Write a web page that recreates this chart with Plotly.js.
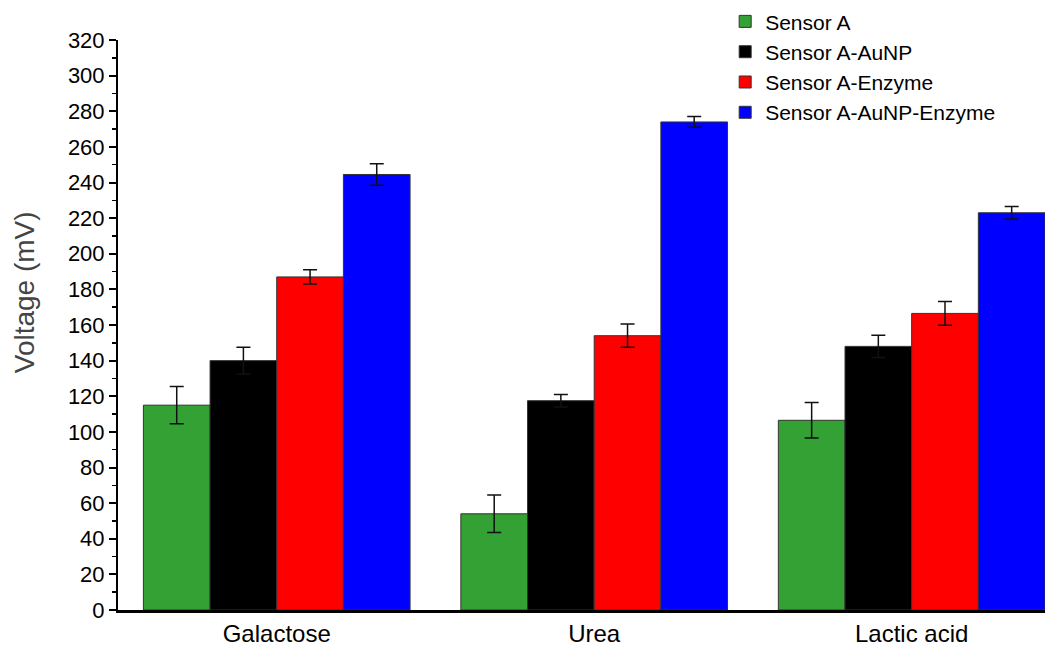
<!DOCTYPE html>
<html>
<head>
<meta charset="utf-8">
<script src="https://cdn.plot.ly/plotly-3.0.1.min.js"></script>
<style>html,body{margin:0;padding:0;background:#fff;}#chart{width:1045px;height:648px;}</style>
</head>
<body>
<div id="chart"></div>
<script>
const categories = ["Galactose", "Urea", "Lactic acid"];
const seriesNames = ["Sensor A", "Sensor A-AuNP", "Sensor A-Enzyme", "Sensor A-AuNP-Enzyme"];
const sensorA = [115, 54, 106.5];
const sensorAErr = [10.5, 10.5, 10];
const sensorAAuNP = [140, 117.5, 148];
const sensorAAuNPErr = [7.5, 3.5, 6.3];
const sensorAEnzyme = [187, 154, 166.5];
const sensorAEnzymeErr = [4, 6.5, 6.7];
const sensorAAuNPEnzyme = [244.5, 274, 223];
const sensorAAuNPEnzymeErr = [6, 3, 3.5];
const yTicks = [0, 20, 40, 60, 80, 100, 120, 140, 160, 180, 200, 220, 240, 260, 280, 300, 320];
const yTitle = "Voltage (mV)";

const colors = ["#33a133", "#000000", "#ff0000", "#0000ff"];
const values = [sensorA, sensorAAuNP, sensorAEnzyme, sensorAAuNPEnzyme];
const errs = [sensorAErr, sensorAAuNPErr, sensorAEnzymeErr, sensorAAuNPEnzymeErr];

const traces = values.map((v, i) => ({
  type: "bar",
  name: seriesNames[i],
  x: categories,
  y: v,
  marker: {color: colors[i], line: {color: "#333333", width: 1}},
  error_y: {type: "data", array: errs[i], visible: true, color: "#111111", thickness: 1.5, width: 7}
}));

const layout = {
  width: 1045, height: 648,
  margin: {l: 118, r: 0, t: 40, b: 38},
  paper_bgcolor: "#ffffff", plot_bgcolor: "#ffffff",
  font: {family: "Arial, 'Liberation Sans', sans-serif", color: "#000"},
  barmode: "group",
  bargap: 0.16,
  bargroupgap: 0,
  showlegend: true,
  legend: {x: 0.655, y: 1.068, xanchor: "left", yanchor: "top", font: {size: 21, color: "#000"},
           bgcolor: "rgba(0,0,0,0)", tracegroupgap: 0, itemwidth: 30},
  xaxis: {
    type: "category", range: [-0.5, 2.42],
    showline: true, linecolor: "#000", linewidth: 3,
    ticks: "", showgrid: false, zeroline: false,
    tickfont: {size: 24, color: "#000"}
  },
  yaxis: {
    range: [0, 320], tickvals: yTicks, ticktext: yTicks.map(String),
    showline: true, linecolor: "#000", linewidth: 2,
    ticks: "outside", ticklen: 7, tickwidth: 2, tickcolor: "#000",
    minor: {dtick: 10, ticks: "outside", ticklen: 4, tickwidth: 1.5, tickcolor: "#000", showgrid: false},
    showgrid: false, zeroline: false,
    tickfont: {size: 22, color: "#000"}
  },
  annotations: [{
    text: yTitle, xref: "paper", yref: "paper", x: -0.1, y: 0.558,
    xanchor: "center", yanchor: "middle", textangle: -90, showarrow: false,
    font: {size: 28, color: "#444"}
  }]
};

Plotly.newPlot("chart", traces, layout, {displayModeBar: false, staticPlot: true});
</script>
</body>
</html>
